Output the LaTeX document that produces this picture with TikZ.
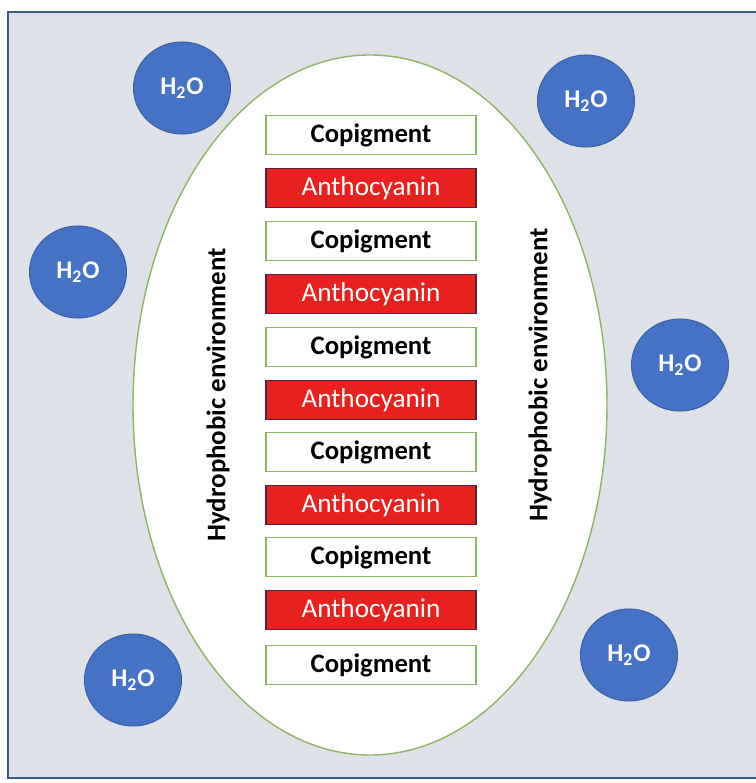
\documentclass[tikz,border=0pt]{standalone}
\usepackage{fontspec}
\setmainfont{Carlito}
\definecolor{paneback}{HTML}{DEE2E8}
\definecolor{paneedge}{HTML}{3A5A8A}
\definecolor{cellgreen}{HTML}{8FB565}
\definecolor{waterblue}{HTML}{4472C4}
\definecolor{wateredge}{HTML}{3B62A8}
\definecolor{anthored}{HTML}{E8201E}
\definecolor{anthoedge}{HTML}{5A2040}
\tikzset{
  pane/.style={fill=paneback, draw=paneedge, line width=0.7pt},
  cell/.style={fill=white, draw=cellgreen, line width=0.8pt},
  water/.style={ellipse, minimum width=1.94cm, minimum height=1.84cm, fill=waterblue, draw=wateredge, line width=0.6pt, text=white, font=\bfseries\fontsize{14.5}{16}\selectfont, inner sep=0pt},
  copig/.style={minimum width=4.2cm, minimum height=0.78cm, fill=white, draw=cellgreen, line width=0.7pt, font=\bfseries\fontsize{15.2}{17}\selectfont, inner sep=0pt},
  antho/.style={minimum width=4.2cm, minimum height=0.78cm, fill=anthored, draw=anthoedge, line width=0.7pt, text=white, font=\fontsize{15.5}{18}\selectfont, inner sep=0pt},
  phobic/.style={rotate=90, font=\bfseries\fontsize{15.3}{17}\selectfont},
}
\usetikzlibrary{shapes.geometric}
\begin{document}
\begin{tikzpicture}[x=0.02cm, y=-0.02cm]
\useasboundingbox (0,0) rectangle (755,783);
\draw[pane] (8,12) rectangle (770,778);
\draw[cell] (370,405) ellipse (237 and 350);
\node[copig] (c1) at (371,135) {Copigment};
\node[antho] (a1) at (371,188) {Anthocyanin};
\node[copig] (c2) at (371,241) {Copigment};
\node[antho] (a2) at (371,294) {Anthocyanin};
\node[copig] (c3) at (371,347) {Copigment};
\node[antho] (a3) at (371,400) {Anthocyanin};
\node[copig] (c4) at (371,452) {Copigment};
\node[antho] (a4) at (371,505) {Anthocyanin};
\node[copig] (c5) at (371,557) {Copigment};
\node[antho] (a5) at (371,610) {Anthocyanin};
\node[copig] (c6) at (371,665) {Copigment};
\node[phobic] (pleft) at (218,395) {Hydrophobic environment};
\node[phobic] (pright) at (540,375) {Hydrophobic environment};
\node[water] (w1) at (182,88) {H\textsubscript{2}O};
\node[water] (w2) at (586,101) {H\textsubscript{2}O};
\node[water] (w3) at (78,272) {H\textsubscript{2}O};
\node[water] (w4) at (680,365) {H\textsubscript{2}O};
\node[water] (w5) at (133,680) {H\textsubscript{2}O};
\node[water] (w6) at (629,655) {H\textsubscript{2}O};
\end{tikzpicture}
\end{document}
